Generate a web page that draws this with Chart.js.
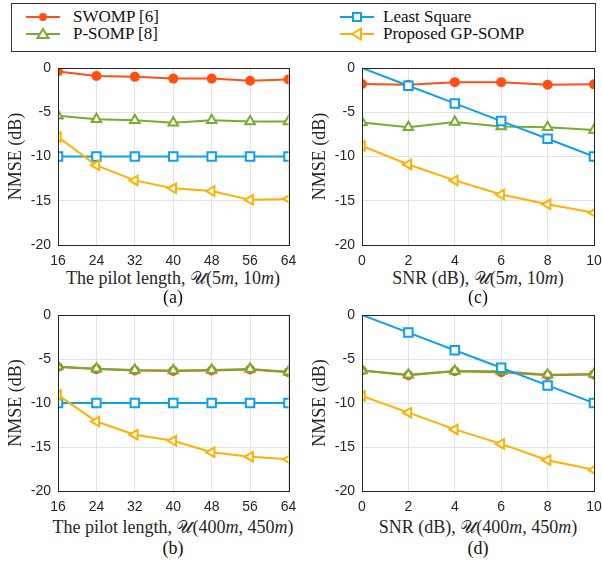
<!DOCTYPE html>
<html>
<head>
<meta charset="utf-8">
<script src="https://cdn.jsdelivr.net/npm/chart.js@4.4.1/dist/chart.umd.min.js"></script>
<style>
  body { margin: 0; background: #fff; }
  #wrap { position: relative; width: 602px; height: 563px; overflow: hidden; }
  canvas { position: absolute; }
  .legend { position: absolute; left: 11px; top: 3px; width: 585px; height: 49px; border: 1px solid #333; box-sizing: border-box; }
  .item { position: absolute; font: 17px "Liberation Serif", serif; color: #111; line-height: 20px; white-space: nowrap; }
  .item svg { position: absolute; left: 0; top: 2px; }
  .item span { position: absolute; }
  .xt, .lab { position: absolute; font: 18px "Liberation Serif", serif; color: #262626; white-space: nowrap; transform: translateX(-50%); line-height: 20px; }
  .lab { color: #111; }
</style>
</head>
<body>
<div id="wrap">
  <div class="legend" id="legend"></div>
  <canvas id="ca" width="300" height="209" style="left:0px;top:58px"></canvas>
  <canvas id="cc" width="298" height="209" style="left:304px;top:58px"></canvas>
  <canvas id="cb" width="300" height="208" style="left:0px;top:305px"></canvas>
  <canvas id="cd" width="298" height="208" style="left:304px;top:305px"></canvas>

  <div class="xt" style="left:173px;top:268px">The pilot length, <span class="m">𝒰</span>(5<i>m</i>, 10<i>m</i>)</div>
  <div class="lab" style="left:173px;top:287px">(a)</div>
  <div class="xt" style="left:478px;top:268px">SNR (dB), <span class="m">𝒰</span>(5<i>m</i>, 10<i>m</i>)</div>
  <div class="lab" style="left:478px;top:287px">(c)</div>
  <div class="xt" style="left:173px;top:517px">The pilot length, <span class="m">𝒰</span>(400<i>m</i>, 450<i>m</i>)</div>
  <div class="lab" style="left:173px;top:538px">(b)</div>
  <div class="xt" style="left:478px;top:517px">SNR (dB), <span class="m">𝒰</span>(400<i>m</i>, 450<i>m</i>)</div>
  <div class="lab" style="left:478px;top:538px">(d)</div>
</div>
<script>
// x values
const pilotLengths = [16, 24, 32, 40, 48, 56, 64];
const snrValues = [0, 2, 4, 6, 8, 10];
const nmseTicks = [-20, -15, -10, -5, 0];

const seriesNames = ['SWOMP [6]', 'P-SOMP [8]', 'Least Square', 'Proposed GP-SOMP'];

// (a) pilot length, U(5m,10m)
const aSwomp = [-0.4, -0.9, -1.0, -1.2, -1.2, -1.45, -1.3];
const aPsomp = [-5.4, -5.8, -5.9, -6.2, -5.9, -6.05, -6.05];
const aLs = [-10, -10, -10, -10, -10, -10, -10];
const aGp = [-7.8, -11.0, -12.7, -13.6, -13.9, -14.9, -14.8];

// (b) pilot length, U(400m,450m)
const bSwomp = [-5.9, -6.15, -6.3, -6.35, -6.3, -6.2, -6.5];
const bPsomp = [-5.85, -6.1, -6.25, -6.3, -6.25, -6.15, -6.45];
const bLs = [-10, -10, -10, -10, -10, -10, -10];
const bGp = [-9.1, -12.1, -13.6, -14.3, -15.6, -16.1, -16.4];

// (c) SNR, U(5m,10m)
const cSwomp = [-1.8, -1.9, -1.6, -1.6, -1.9, -1.85];
const cPsomp = [-6.15, -6.7, -6.1, -6.6, -6.7, -7.0];
const cLs = [0, -2, -4, -6, -8, -10];
const cGp = [-8.8, -10.9, -12.7, -14.3, -15.4, -16.35];

// (d) SNR, U(400m,450m)
const dSwomp = [-6.3, -6.85, -6.4, -6.5, -6.85, -6.75];
const dPsomp = [-6.3, -6.8, -6.35, -6.4, -6.8, -6.7];
const dLs = [0, -2, -4, -6, -8, -10];
const dGp = [-9.2, -11.1, -13.0, -14.65, -16.5, -17.6];

const colors = ['#ff4f12', '#77ac30', '#0ea0ea', '#ffb000'];
const styles = [
    { pointStyle: 'circle', radius: 4, fill: '#ff4f12', rot: 0 },
    { pointStyle: 'triangle', radius: 5.5, fill: '#fff', rot: 0 },
    { pointStyle: 'rect', radius: 6, fill: '#fff', rot: 0 },
    { pointStyle: 'triangle', radius: 5.5, fill: '#fff', rot: -90 }
];

function pts(xs, ys) {
    return xs.map(function(x, i) { return { x: x, y: ys[i] }; });
}

// box around the plot area, like matlab's axes
const frame = {
    id: 'frame',
    afterDraw: function(chart) {
        const a = chart.chartArea;
        const ctx = chart.ctx;
        ctx.save();
        ctx.strokeStyle = '#262626';
        ctx.lineWidth = 1;
        ctx.strokeRect(Math.round(a.left) + 0.5, Math.round(a.top) + 0.5,
            Math.round(a.right - a.left), Math.round(a.bottom - a.top));
        ctx.restore();
    }
};

function makeChart(id, xs, series, xmin, xmax, padRight, noFirstLsMarker) {
    const datasets = series.map(function(ys, k) {
        const st = styles[k];
        let radius = st.radius;
        if (k === 2 && noFirstLsMarker) {
            radius = xs.map(function(x, i) { return i === 0 ? 0 : st.radius; });
        }
        return {
            label: seriesNames[k],
            data: pts(xs, ys),
            borderColor: colors[k],
            backgroundColor: st.fill,
            borderWidth: 2,
            pointStyle: st.pointStyle,
            pointRadius: radius,
            pointRotation: st.rot,
            pointBorderWidth: 2,
            pointBackgroundColor: st.fill,
            pointBorderColor: colors[k],
            order: 4 - k
        };
    });

    new Chart(document.getElementById(id), {
        type: 'line',
        data: { datasets: datasets },
        plugins: [frame],
        options: {
            responsive: false,
            animation: false,
            devicePixelRatio: 1,
            layout: { padding: { top: 10, right: padRight, left: 0, bottom: 0 } },
            plugins: { legend: { display: false }, tooltip: { enabled: false } },
            scales: {
                x: {
                    type: 'linear',
                    min: xmin,
                    max: xmax,
                    afterFit: function(s) {
                        s.height = 22;
                        s.paddingLeft = 0;
                        s.paddingRight = 0;
                    },
                    afterBuildTicks: function(s) {
                        s.ticks = xs.map(function(v) { return { value: v }; });
                    },
                    grid: { color: '#e3e3e3', drawTicks: false },
                    border: { display: false },
                    ticks: {
                        padding: 8,
                        color: '#262626',
                        autoSkip: false,
                        maxRotation: 0,
                        font: { family: 'Liberation Sans', size: 14 }
                    }
                },
                y: {
                    min: -20,
                    max: 0,
                    afterFit: function(s) {
                        s.width = 58;
                        s.paddingTop = 0;
                        s.paddingBottom = 0;
                    },
                    afterBuildTicks: function(s) {
                        s.ticks = nmseTicks.map(function(v) { return { value: v }; });
                    },
                    grid: { color: '#e3e3e3', drawTicks: false },
                    border: { display: false },
                    ticks: {
                        padding: 7,
                        color: '#262626',
                        font: { family: 'Liberation Sans', size: 14 }
                    },
                    title: {
                        display: true,
                        text: 'NMSE (dB)',
                        color: '#262626',
                        padding: { top: 5, bottom: 0 },
                        font: { family: 'Liberation Serif', size: 18 }
                    }
                }
            }
        }
    });
}

makeChart('ca', pilotLengths, [aSwomp, aPsomp, aLs, aGp], 16, 64, 11.5, false);
makeChart('cc', snrValues, [cSwomp, cPsomp, cLs, cGp], 0, 10, 7.5, true);
makeChart('cb', pilotLengths, [bSwomp, bPsomp, bLs, bGp], 16, 64, 11.5, false);
makeChart('cd', snrValues, [dSwomp, dPsomp, dLs, dGp], 0, 10, 7.5, true);

// legend, two columns: [left, top, text offset]
const legendPos = [[14, 3, 47], [14, 20, 47], [328, 3, 43], [328, 20, 43]];
const legend = document.getElementById('legend');
seriesNames.forEach(function(name, k) {
    let mk = '';
    if (k === 0) mk = '<circle cx="17" cy="8" r="4" fill="' + colors[0] + '"/>';
    if (k === 1) mk = '<polygon points="17,3 22.5,12 11.5,12" fill="#fff" stroke="' + colors[1] + '" stroke-width="2"/>';
    if (k === 2) mk = '<rect x="13" y="4" width="8" height="8" fill="#fff" stroke="' + colors[2] + '" stroke-width="2"/>';
    if (k === 3) mk = '<polygon points="12,8 21,2.5 21,13.5" fill="#fff" stroke="' + colors[3] + '" stroke-width="2"/>';
    const div = document.createElement('div');
    div.className = 'item';
    div.style.left = legendPos[k][0] + 'px';
    div.style.top = legendPos[k][1] + 'px';
    div.innerHTML = '<svg width="34" height="16"><line x1="0" y1="8" x2="34" y2="8" stroke="' + colors[k] +
        '" stroke-width="2"/>' + mk + '</svg><span style="left:' + legendPos[k][2] + 'px;top:0">' + name + '</span>';
    legend.appendChild(div);
});
</script>
</body>
</html>
